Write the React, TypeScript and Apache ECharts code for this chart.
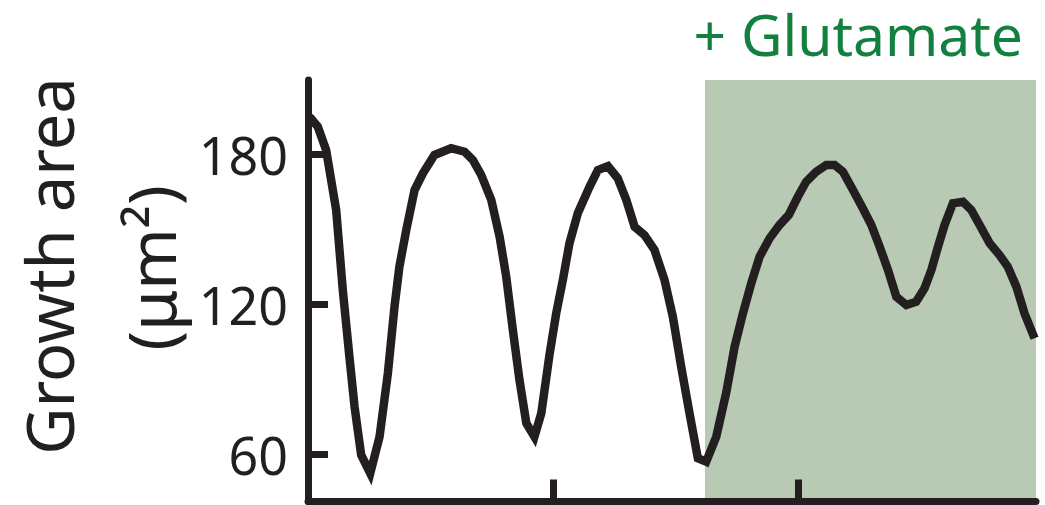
import React, { useEffect, useRef } from "react";
import * as echarts from "echarts";

const timeX = [
  0.06, 0.4, 0.74, 1.15, 1.42, 1.69, 1.9, 2.17, 2.54, 2.92,
  3.26, 3.53, 3.73, 4.01, 4.35, 4.69, 5.16, 5.84, 6.39, 6.73,
  7.07, 7.48, 7.82, 8.09, 8.36, 8.63, 8.91, 9.24, 9.52, 9.86,
  10.13, 10.4, 10.67, 11.01, 11.49, 11.83, 12.24, 12.64, 12.99, 13.33,
  13.73, 14.14, 14.55, 14.89, 15.23, 15.57, 15.91, 16.25, 16.66, 17.07,
  17.41, 17.75, 18.09, 18.43, 18.84, 19.24, 19.62, 19.99, 20.33, 20.74,
  21.15, 21.49, 21.83, 22.24, 22.64, 22.99, 23.33, 23.67, 24.01, 24.42,
  24.82, 25.16, 25.44, 25.71, 25.98, 26.32, 26.73, 27.07, 27.41, 27.82,
  28.22, 28.56, 28.91, 29.24, 29.65,
];
const growthArea = [
  194.9, 190.9, 181.6, 157.6, 125.6, 98.9, 78.9, 59.6, 52.3, 66.9,
  92.3, 118.9, 134.9, 149.6, 165.6, 172.3, 179.6, 182.3, 180.9, 177.6,
  171.6, 161.6, 146.9, 130.9, 109.6, 89.6, 72.3, 66.9, 76.3, 100,
  116.3, 129.6, 144.3, 156.3, 166.9, 173.6, 175.2, 170.3, 161.6, 150.9,
  147.6, 141.6, 129.6, 114.9, 94.9, 76.3, 58.3, 56.9, 66.9, 84.6,
  102.9, 116.3, 128.3, 138.9, 146.3, 151.6, 155.6, 162.9, 168.9, 172.9,
  175.6, 175.6, 172.9, 165.6, 158.3, 151.6, 142.9, 133.6, 122.9, 119.6,
  120.9, 126.3, 133.6, 142.9, 151.6, 160.3, 160.9, 157.6, 151.6, 144.3,
  139.6, 134.9, 126.9, 116.3, 106.3,
];
const yTicks = [60, 120, 180];
const xTicks = [10, 20];
const glutamateStart = 16.2;
const glutamateLabel = "+ Glutamate";
const yTitleLine1 = "Growth area";
const yTitleLine2 = "(μm²)";

const INK = "#231f20";
const FONT = "'Noto Sans', sans-serif";

export default function App() {
  const ref = useRef<HTMLDivElement>(null);
  useEffect(() => {
    if (!ref.current) return;
    const chart = echarts.init(ref.current, null, { renderer: "svg" });
    const xMin = 0;
    const xMax = 29.71;
    const yMin = 41;
    const yMax = 209.6;
    chart.setOption({
      animation: false,
      backgroundColor: "#ffffff",
      grid: { left: 308, right: 9, top: 80, bottom: 3.5, containLabel: false },
      xAxis: {
        type: "value",
        min: xMin,
        max: xMax,
        z: 5,
        axisLine: { show: true, onZero: false, lineStyle: { color: INK, width: 7 } },
        axisTick: {
          show: true,
          inside: true,
          length: 22,
          customValues: xTicks,
          lineStyle: { color: INK, width: 7 },
        },
        axisLabel: { show: false },
        splitLine: { show: false },
      },
      yAxis: {
        type: "value",
        min: yMin,
        max: yMax,
        z: 5,
        axisLine: { show: true, onZero: false, lineStyle: { color: INK, width: 7 } },
        axisTick: {
          show: true,
          inside: true,
          length: 20,
          customValues: yTicks,
          lineStyle: { color: INK, width: 7 },
        },
        axisLabel: {
          show: true,
          customValues: yTicks,
          margin: 20,
          color: INK,
          fontSize: 52,
          fontFamily: FONT,
        },
        splitLine: { show: false },
      },
      graphic: [
        {
          type: "text",
          x: 49,
          y: 266,
          rotation: Math.PI / 2,
          style: {
            text: yTitleLine1,
            fill: INK,
            fontSize: 65,
            fontFamily: FONT,
            align: "center",
            verticalAlign: "middle",
          },
        },
        {
          type: "text",
          x: 150,
          y: 268,
          rotation: Math.PI / 2,
          style: {
            text: yTitleLine2,
            fill: INK,
            fontSize: 66,
            fontFamily: FONT,
            align: "center",
            verticalAlign: "middle",
          },
        },
        {
          type: "text",
          x: 1023,
          y: 34,
          style: {
            text: glutamateLabel,
            fill: "#14803f",
            fontSize: 57,
            fontFamily: FONT,
            align: "right",
            verticalAlign: "middle",
          },
        },
      ],
      series: [
        {
          type: "line",
          data: timeX.map((x, i) => [x, growthArea[i]]),
          showSymbol: false,
          symbol: "none",
          clip: false,
          lineStyle: { color: INK, width: 8.5, join: "miter" },
          z: 2,
          markArea: {
            silent: true,
            itemStyle: { color: "#b8cab4", opacity: 1 },
            label: { show: false },
            data: [
              [
                { xAxis: glutamateStart, yAxis: yMin },
                { xAxis: xMax, yAxis: yMax },
              ],
            ],
          },
        },
      ],
    });
    return () => chart.dispose();
  }, []);
  return (
    <div
      ref={ref}
      style={{ position: "fixed", left: 0, top: 0, width: 1045, height: 505 }}
    />
  );
}
